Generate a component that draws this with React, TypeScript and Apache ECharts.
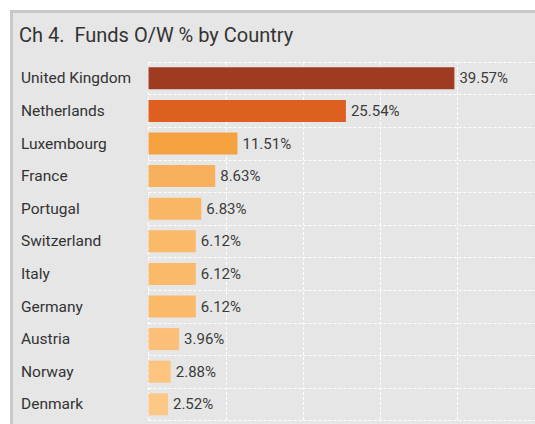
import React, { useEffect, useRef } from "react";
import * as echarts from "echarts";

const categories = [
  "United Kingdom",
  "Netherlands",
  "Luxembourg",
  "France",
  "Portugal",
  "Switzerland",
  "Italy",
  "Germany",
  "Austria",
  "Norway",
  "Denmark",
];
const values = [39.57, 25.54, 11.51, 8.63, 6.83, 6.12, 6.12, 6.12, 3.96, 2.88, 2.52];
const barColors = [
  "#9f3b21",
  "#de6020",
  "#f4a23f",
  "#f8b05c",
  "#f9b765",
  "#fbb96a",
  "#fbb96a",
  "#fbb96a",
  "#fcbf77",
  "#fdc47f",
  "#fdc886",
];
const titleText = "Ch 4.  Funds O/W % by Country";

export default function App() {
  const ref = useRef<HTMLDivElement>(null);
  useEffect(() => {
    if (!ref.current) return;
    const chart = echarts.init(ref.current, undefined, { renderer: "svg" });
    const font = "Roboto, 'Noto Sans', sans-serif";
    chart.setOption({
      animation: false,
      backgroundColor: "#ffffff",
      graphic: [
        {
          type: "rect",
          left: 10,
          top: 10,
          shape: { width: 600, height: 500 },
          style: { fill: "#c8c8c8" },
          z: -10,
          silent: true,
        },
        {
          type: "rect",
          left: 13,
          top: 13,
          shape: { width: 600, height: 500 },
          style: { fill: "#e6e6e6" },
          z: -9,
          silent: true,
        },
      ],
      title: {
        text: titleText,
        left: 14,
        top: 20,
        textStyle: {
          fontFamily: font,
          fontSize: 20,
          fontWeight: "normal",
          color: "#333333",
        },
      },
      grid: {
        left: 148.5,
        top: 62,
        width: 402,
        height: 358.6,
        containLabel: false,
      },
      xAxis: {
        type: "value",
        min: 0,
        max: 50,
        interval: 10,
        axisLine: { show: false },
        axisTick: { show: false },
        axisLabel: { show: false },
        splitLine: {
          show: true,
          lineStyle: { color: "#ffffff", type: [3, 2], width: 1 },
        },
      },
      yAxis: {
        type: "category",
        data: categories,
        inverse: true,
        axisLine: { show: false },
        axisTick: { show: false },
        axisLabel: {
          align: "left",
          margin: 127.5,
          fontFamily: font,
          fontSize: 15.5,
          color: "#333333",
        },
        splitLine: {
          show: true,
          lineStyle: { color: "#ffffff", type: [3, 2], width: 1 },
        },
      },
      series: [
        {
          type: "bar",
          data: values.map((v, i) => ({ value: v, itemStyle: { color: barColors[i] } })),
          barWidth: 22,
          label: {
            show: true,
            position: "right",
            distance: 5,
            formatter: (p: any) => p.value.toFixed(2) + "%",
            fontFamily: font,
            fontSize: 15,
            color: "#3c3c3c",
          },
        },
      ],
    });
    return () => chart.dispose();
  }, []);
  return (
    <div
      ref={ref}
      style={{ position: "fixed", left: 0, top: 0, width: 535, height: 424 }}
    />
  );
}
